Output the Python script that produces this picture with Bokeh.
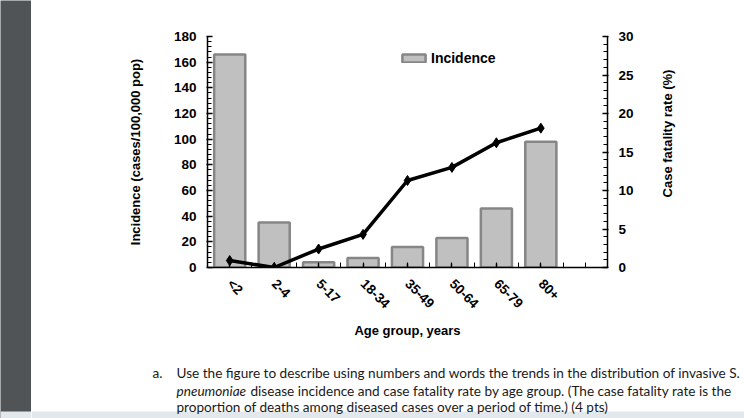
import math
from bokeh.plotting import figure
from bokeh.layouts import row, column
from bokeh.models import (Range1d, LinearAxis, FixedTicker, SingleIntervalTicker,
                          Label, BoxAnnotation, ColumnDataSource)
from bokeh.embed import file_html
from bokeh.resources import INLINE

categories = ["<2", "2-4", "5-17", "18-34", "35-49", "50-64", "65-79", "80+"]
incidence = [166, 35, 4, 7.5, 16, 23, 46, 98]
fatality = [0.9, 0.0, 2.4, 4.3, 11.3, 13.0, 16.2, 18.1]

question = [
    "Use the figure to describe using numbers and words the trends in the distribution of invasive S.",
    " disease incidence and case fatality rate by age group. (The case fatality rate is the",
    "proportion of deaths among diseased cases over a period of time.) (4 pts)",
]

xs = [i + 0.5 for i in range(len(categories))]
src = ColumnDataSource(dict(x=xs, inc=incidence, cfr=fatality))

FONT = "Liberation Sans"
LIGHT = "#e3e8ed"

# ---------- dark side strip ----------
strip = figure(width=31, height=418, output_backend="svg", toolbar_location=None,
               min_border=0, x_range=Range1d(0, 31), y_range=Range1d(0, 418))
strip.axis.visible = False
strip.grid.visible = False
strip.outline_line_color = None
strip.background_fill_color = "#505457"
strip.border_fill_color = "#505457"
strip.add_layout(BoxAnnotation(bottom=0, top=7, fill_color=LIGHT, fill_alpha=1, line_alpha=0))

# ---------- chart ----------
p = figure(width=713, height=350, output_backend="svg", toolbar_location=None,
           x_range=Range1d(0, 9), y_range=Range1d(0, 180),
           min_border_left=176, min_border_right=137, min_border_top=36,
           min_border_bottom=83)
p.outline_line_color = None
p.grid.visible = False
p.background_fill_color = "white"
p.border_fill_color = "white"
p.extra_y_ranges = {"cfr": Range1d(0, 30)}

p.vbar(x="x", top="inc", width=0.7, bottom=0, source=src, fill_color="#c0c0c0",
       line_color="#868686", line_width=2.5, legend_label="Incidence")
p.line(x="x", y="cfr", source=src, y_range_name="cfr", line_color="black", line_width=3.5)
p.scatter(x="x", y="cfr", source=src, y_range_name="cfr", marker="diamond", size=10,
          fill_color="black", line_color="black")

# main x axis: ticks only
xa = p.xaxis[0]
xa.ticker = FixedTicker(ticks=xs, minor_ticks=[i * 0.5 for i in range(1, 18)])
xa.major_label_overrides = {x: "" for x in xs}
xa.major_tick_in = 4
xa.major_tick_out = 0
xa.minor_tick_in = 5
xa.minor_tick_out = 0
xa.major_label_standoff = 0

# label axis (categories)
la = LinearAxis(ticker=FixedTicker(ticks=xs),
                major_label_overrides={x: c for x, c in zip(xs, categories)},
                axis_label="Age group, years")
la.major_label_orientation = -math.pi / 4
la.axis_line_color = None
la.major_tick_line_color = None
la.minor_tick_line_color = None
la.major_tick_in = 0
la.major_tick_out = 0
p.add_layout(la, "below")

# left axis
ya = p.yaxis[0]
ya.ticker = SingleIntervalTicker(interval=20, num_minor_ticks=5)
ya.axis_label = "Incidence (cases/100,000 pop)"
ya.major_tick_in = 5
ya.major_tick_out = 1
ya.minor_tick_in = 4
ya.minor_tick_out = 0

# right axis
ra = LinearAxis(y_range_name="cfr", ticker=SingleIntervalTicker(interval=5, num_minor_ticks=5))
ra.major_tick_in = 5
ra.major_tick_out = 1
ra.minor_tick_in = 4
ra.minor_tick_out = 0
p.add_layout(ra, "right")

# right axis title (reads bottom-to-top, as in the original)
cfr_title = "Case fatality rate (%)"
title_pos = [9.1]
rt = LinearAxis(y_range_name="cfr", ticker=FixedTicker(ticks=title_pos),
                major_label_overrides={title_pos[0]: cfr_title})
rt.major_label_orientation = math.pi / 2
rt.axis_line_color = None
rt.major_tick_line_color = None
rt.minor_tick_line_color = None
rt.major_tick_in = 0
rt.major_tick_out = 0
p.add_layout(rt, "right")

for ax in [xa, la, ya, ra]:
    if ax is not la:
        ax.axis_line_color = "black"
        ax.axis_line_width = 1.5
        ax.major_tick_line_color = "black"
        ax.minor_tick_line_color = "black"
        ax.major_tick_line_width = 1.5
        ax.minor_tick_line_width = 1
    ax.major_label_text_font = FONT
    ax.major_label_text_font_style = "bold"
    ax.major_label_text_font_size = "13.5px"
    ax.major_label_text_color = "black"
    ax.axis_label_text_font = FONT
    ax.axis_label_text_font_style = "bold"
    ax.axis_label_text_font_size = "13px"
    ax.axis_label_text_color = "black"

rt.major_label_text_font = FONT
rt.major_label_text_font_style = "bold"
rt.major_label_text_font_size = "13px"
rt.major_label_text_color = "black"
rt.major_label_standoff = 31

la.major_label_standoff = 14
la.axis_label_standoff = 3
ya.major_label_standoff = 10
ya.axis_label_standoff = 28
ra.major_label_standoff = 10

leg = p.legend[0]
leg.location = (192, 201)
leg.border_line_alpha = 0
leg.background_fill_alpha = 0
leg.padding = 0
leg.margin = 0
leg.spacing = 0
leg.label_standoff = 3
leg.glyph_width = 29
leg.glyph_height = 10
leg.label_text_font = FONT
leg.label_text_font_style = "bold"
leg.label_text_font_size = "14px"
leg.label_text_color = "black"

# ---------- question text ----------
t = figure(width=713, height=68, output_backend="svg", toolbar_location=None,
           min_border=0, x_range=Range1d(0, 713), y_range=Range1d(68, 0))
t.axis.visible = False
t.grid.visible = False
t.outline_line_color = None
t.add_layout(BoxAnnotation(bottom=61, top=68, fill_color=LIGHT, fill_alpha=1, line_alpha=0))

for fig in (p, t, strip):
    if hasattr(fig, "frame_align"):
        fig.frame_align = False

QF = "Lato"
QS = "13.6px"
QC = "#1a1a1a"
t.add_layout(Label(x=121, y=22.7, text="a.", text_font=QF, text_font_size=QS,
                   text_color=QC, text_baseline="middle"))
t.add_layout(Label(x=145, y=22.7, text=question[0], text_font=QF, text_font_size=QS,
                   text_color=QC, text_baseline="middle"))
t.add_layout(Label(x=145, y=40, text="pneumoniae", text_font=QF, text_font_size=QS,
                   text_font_style="italic", text_color=QC, text_baseline="middle"))
t.add_layout(Label(x=219, y=40, text=question[1], text_font=QF, text_font_size=QS,
                   text_color=QC, text_baseline="middle"))
t.add_layout(Label(x=145, y=56, text=question[2], text_font=QF, text_font_size=QS,
                   text_color=QC, text_baseline="middle"))

layout = row(strip, column(p, t, spacing=0), spacing=0)
open("out.html", "w").write(file_html(layout, INLINE))
